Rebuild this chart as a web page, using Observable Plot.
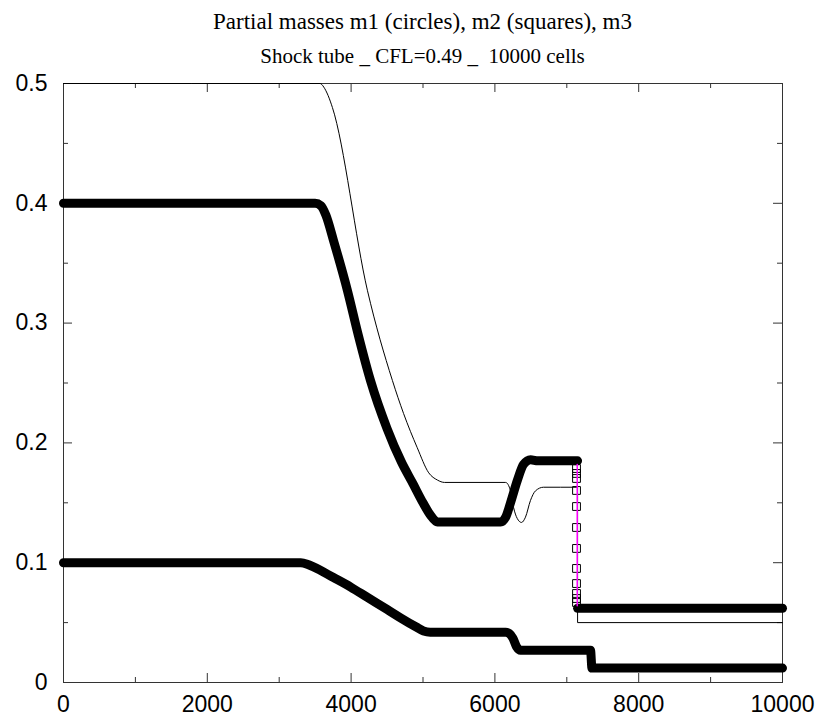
<!DOCTYPE html>
<html><head><meta charset="utf-8">
<script src="https://cdn.jsdelivr.net/npm/d3@7"></script>
<script src="https://cdn.jsdelivr.net/npm/@observablehq/plot@0.6"></script>
<style>
body{margin:0;background:#fff;width:822px;height:722px;overflow:hidden;position:relative}
#title{position:absolute;left:0;top:8px;width:845px;text-align:center;font:23px "Liberation Serif","Times New Roman",serif;color:#000;line-height:28px;white-space:pre;z-index:2}
#sub{position:absolute;left:0;top:44px;width:845px;text-align:center;font:21px "Liberation Serif","Times New Roman",serif;color:#000;line-height:24px;white-space:pre;z-index:2}
#chart{position:absolute;left:0;top:70px;z-index:1}
</style></head>
<body>
<div id="title">Partial masses m1 (circles), m2 (squares), m3</div>
<div id="sub">Shock tube _ CFL=0.49 _  10000 cells</div>
<div id="chart"></div>
<script>
// m1 (circles) – upper thick curve, two pieces split at the contact
const m1X_a = [0, 3500, 3580, 3650, 3755, 3950, 4100, 4270, 4500, 4700, 4860, 5000, 5100, 5200, 6080, 6150, 6217, 6314, 6398, 6495, 6600, 7150];
const m1Y_a = [0.4, 0.4, 0.398, 0.39, 0.369, 0.327, 0.29, 0.252, 0.212, 0.184, 0.166, 0.150, 0.140, 0.134, 0.134, 0.138, 0.150, 0.169, 0.182, 0.186, 0.185, 0.185];
const m1X_b = [7150, 10000];
const m1Y_b = [0.062, 0.062];

// lower thick curve
const m2X = [0, 3300, 3400, 3477, 3755, 4000, 4228, 4500, 4687, 4900, 5007, 5100, 6150, 6200, 6250, 6300, 6356, 7330, 7350, 10000];
const m2Y = [0.1, 0.1, 0.0985, 0.0965, 0.0876, 0.0795, 0.071, 0.061, 0.054, 0.0465, 0.043, 0.042, 0.042, 0.041, 0.037, 0.030, 0.027, 0.027, 0.012, 0.012];

// thin line m3: smooth part up to the contact, then the jump and the right state
const m3X_a = [0, 3570, 3620, 3680, 3740, 4228, 4575, 4730, 4920, 5080, 5200, 5300, 6150, 6217, 6260, 6310, 6370, 6425, 6495, 6565, 6676, 7150];
const m3Y_a = [0.5, 0.5, 0.497, 0.49, 0.48, 0.327, 0.252, 0.2245, 0.196, 0.175, 0.169, 0.167, 0.167, 0.160, 0.146, 0.137, 0.1336, 0.138, 0.152, 0.160, 0.163, 0.163];
const m3X_b = [7150, 7150, 10000];
const m3Y_b = [0.163, 0.050, 0.050];

// squares on the contact jump
const sqX = [7135, 7135, 7135, 7135, 7135, 7135, 7135, 7135, 7135, 7135, 7135, 7135];
const sqY = [0.1786, 0.1745, 0.1703, 0.1603, 0.1469, 0.1294, 0.1119, 0.0952, 0.0826, 0.0743, 0.0701, 0.0668];

// magenta segment
const magX = [7145, 7145];
const magY = [0.182, 0.064];

const xMajor = [0, 2000, 4000, 6000, 8000, 10000];
const xMinor = [1000, 3000, 5000, 7000, 9000];
const yMajor = [0, 0.1, 0.2, 0.3, 0.4, 0.5];
const yMinor = [0.05, 0.15, 0.25, 0.35, 0.45];
const xLabels = ["0", "2000", "4000", "6000", "8000", "10000"];
const yLabels = ["0", "0.1", "0.2", "0.3", "0.4", "0.5"];

const rows = (xs, ys, seg) => xs.map((x, i) => ({x, y: ys[i], seg}));
const m1Rows = rows(m1X_a, m1Y_a, "a").concat(rows(m1X_b, m1Y_b, "b"));
const m2Rows = rows(m2X, m2Y, "a");
const m3RowsA = rows(m3X_a, m3Y_a, "a");
const m3RowsB = rows(m3X_b, m3Y_b, "b");
const sqRows = rows(sqX, sqY, "s");
const magRows = rows(magX, magY, "m");

const W = 822, H = 652;
const mL = 63, mR = 40, mT = 13, mB = 40;
const fw = W - mL - mR, fh = H - mT - mB;
const majorLen = 9, minorLen = 5;
const axisColor = "#333";
const thick = {stroke: "#000", strokeWidth: 9, strokeLinecap: "round", strokeLinejoin: "round", curve: "monotone-x"};

const chart = Plot.plot({
  width: W, height: H,
  marginLeft: mL, marginRight: mR, marginTop: mT, marginBottom: mB,
  style: {fontFamily: "'Liberation Sans', Arial, sans-serif", fontSize: "23px", background: "transparent", overflow: "visible"},
  x: {domain: [0, 10000]},
  y: {domain: [0, 0.5]},
  marks: [
    Plot.frame({stroke: axisColor, strokeWidth: 1}),
    Plot.tickX(xMajor, {x: d => d, insetTop: fh - majorLen, stroke: axisColor}),
    Plot.tickX(xMajor, {x: d => d, insetBottom: fh - majorLen, stroke: axisColor}),
    Plot.tickX(xMinor, {x: d => d, insetTop: fh - minorLen, stroke: axisColor}),
    Plot.tickX(xMinor, {x: d => d, insetBottom: fh - minorLen, stroke: axisColor}),
    Plot.tickY(yMajor, {y: d => d, insetRight: fw - majorLen, stroke: axisColor}),
    Plot.tickY(yMajor, {y: d => d, insetLeft: fw - majorLen, stroke: axisColor}),
    Plot.tickY(yMinor, {y: d => d, insetRight: fw - minorLen, stroke: axisColor}),
    Plot.tickY(yMinor, {y: d => d, insetLeft: fw - minorLen, stroke: axisColor}),
    Plot.axisX({ticks: xMajor, tickSize: 0, tickPadding: 13, tickFormat: (d, i) => xLabels[i], label: null, fontSize: 23}),
    Plot.axisY({ticks: yMajor, tickSize: 0, tickPadding: 16, tickFormat: (d, i) => yLabels[i], label: null, fontSize: 23}),
    Plot.line(m3RowsA, {x: "x", y: "y", stroke: "#000", strokeWidth: 1, curve: "monotone-x"}),
    Plot.line(m3RowsB, {x: "x", y: "y", stroke: "#000", strokeWidth: 1}),
    Plot.line(m1Rows, {x: "x", y: "y", z: "seg", ...thick}),
    Plot.line(m2Rows, {x: "x", y: "y", ...thick}),
    Plot.dot(sqRows, {x: "x", y: "y", symbol: "square", r: 4.4, stroke: "#000", fill: "none", strokeWidth: 1}),
    Plot.line(magRows, {x: "x", y: "y", stroke: "#ff00ff", strokeWidth: 1.5})
  ]
});
document.getElementById("chart").appendChild(chart);
</script>
</body></html>
